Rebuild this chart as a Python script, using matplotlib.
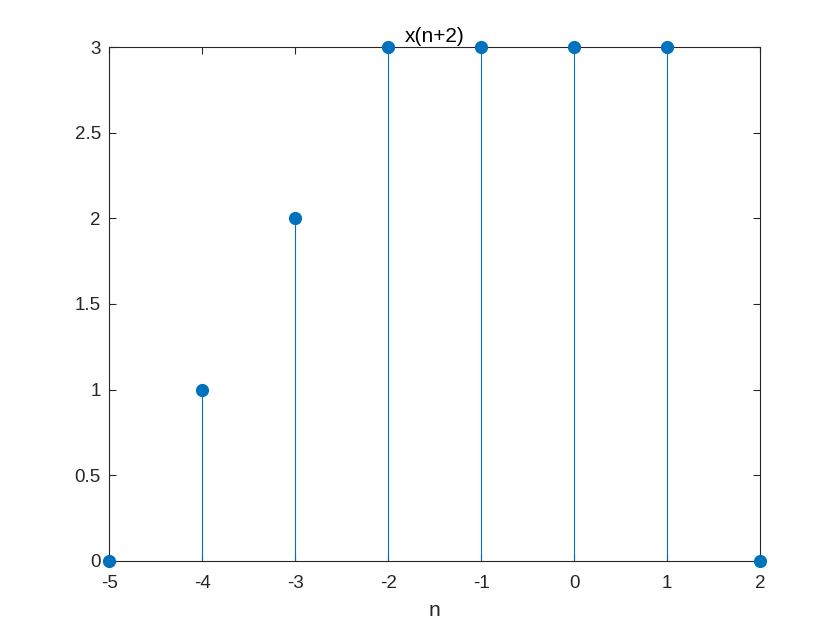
import numpy as np
import matplotlib.pyplot as plt

# sequence x(n+2)
n = [-5, -4, -3, -2, -1, 0, 1, 2]
x = [0, 1, 2, 3, 3, 3, 3, 0]
xticks = [-5, -4, -3, -2, -1, 0, 1, 2]
yticks = [0, 0.5, 1, 1.5, 2, 2.5, 3]

plt.rcParams['font.family'] = ['Liberation Sans', 'DejaVu Sans']
blue = '#0072BD'
dark = '#262626'

fig = plt.figure(figsize=(8.4, 6.3), dpi=100)
ax = fig.add_axes([0.13, 0.11, 0.775, 0.815])

markers, stems, base = ax.stem(n, x, basefmt=' ')
plt.setp(stems, color=blue, linewidth=0.8)
plt.setp(markers, color=blue, markersize=8.5, clip_on=False, zorder=5)
stems.set_clip_on(False)

ax.set_xlim(-5, 2)
ax.set_ylim(0, 3)
ax.set_xticks(xticks)
ax.set_xticklabels([str(t) for t in xticks])
ax.set_yticks(yticks)
ax.set_yticklabels(['0', '0.5', '1', '1.5', '2', '2.5', '3'])

ax.tick_params(direction='in', top=True, right=True, length=5, width=0.8,
               colors=dark, labelsize=13.5, pad=6)
ax.tick_params(axis='x', pad=10)
for s in ax.spines.values():
    s.set_color(dark)
    s.set_linewidth(0.8)

ax.set_title('x(n+2)', fontsize=15, color='black', pad=4)
ax.set_xlabel('n', fontsize=15, color=dark, labelpad=7)

fig.savefig('out.png', dpi=100)
